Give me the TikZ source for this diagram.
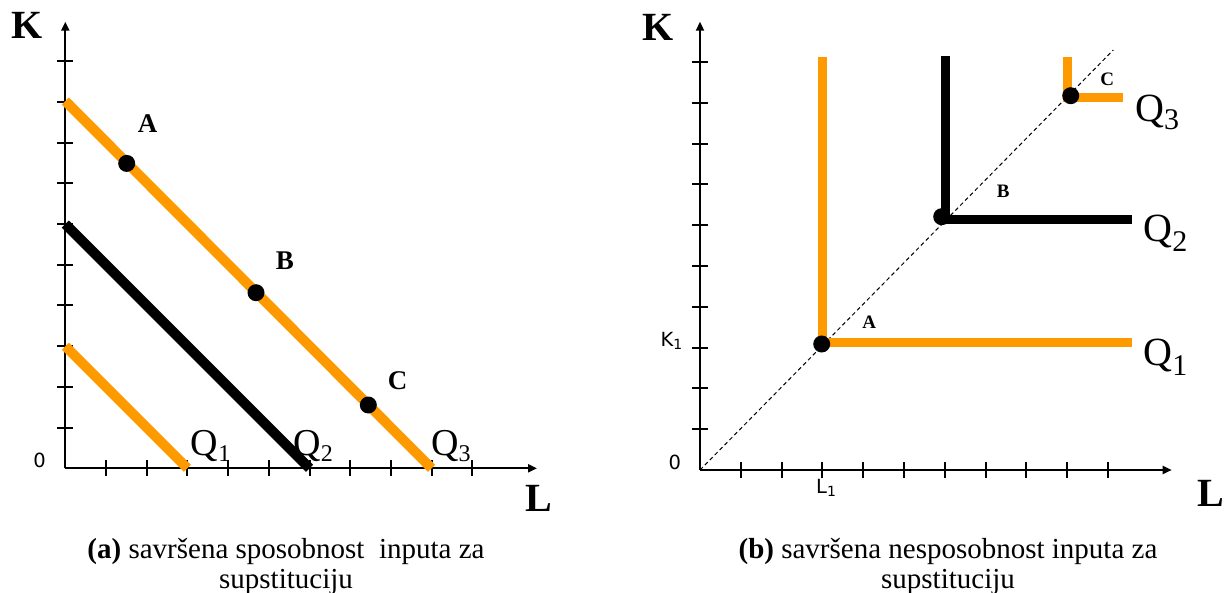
\documentclass[tikz,border=0pt]{standalone}
\usepackage{fontspec}
\setmainfont{Liberation Serif}
\newfontfamily\sansf{DejaVu Sans}
\usetikzlibrary{arrows.meta}
\definecolor{qorange}{RGB}{255,153,0}
\newcommand{\Qlab}[4]{#1\raisebox{-#4pt}{\fontsize{#3}{#3}\selectfont #2}}
\begin{document}
\begin{tikzpicture}[x=1pt,y=-1pt,
  axisline/.style={line width=2pt,-{Triangle[length=9pt,width=8pt]}},
  tickmark/.style={line width=2pt},
  isoL/.style={line width=10pt},
  isoR/.style={line width=9pt,line join=miter},
  dashline/.style={line width=1pt,dash pattern=on 4pt off 3pt},
  dotnode/.style={circle,fill=black,inner sep=0pt,minimum size=17pt},
  ptlabL/.style={font=\fontsize{27}{27}\selectfont\bfseries,inner sep=0pt},
  ptlabR/.style={font=\fontsize{19}{19}\selectfont\bfseries,inner sep=0pt},
  axlab/.style={font=\fontsize{40}{40}\selectfont\bfseries,inner sep=0pt,anchor=base},
  qlabL/.style={font=\fontsize{38}{38}\selectfont,inner sep=0pt,anchor=base west},
  qlabR/.style={font=\fontsize{40}{40}\selectfont,inner sep=0pt,anchor=base west},
  smalllab/.style={font=\sansf\fontsize{19.5}{19.5}\selectfont,inner sep=0pt},
  captext/.style={font=\fontsize{29}{30}\selectfont,inner sep=0pt,anchor=base},
]
\useasboundingbox (0,0) rectangle (1228,593);

% ---------- left panel (a) ----------
\coordinate (O1) at (65.3,468.3);
\coordinate (Y1) at (65.3,21.7);
\coordinate (X1) at (537,468.3);
\draw[axisline] (O1) -- (Y1);
\draw[axisline] (O1) -- (X1);
\foreach \i in {1,...,10} {
  \draw[tickmark] (57.3,{468.3-40.7*\i}) -- (73.3,{468.3-40.7*\i});
  \draw[tickmark] ({65.3+40.7*\i},460.3) -- ({65.3+40.7*\i},476.3);
}
\coordinate (q1a) at (65.3,346.2);
\coordinate (q1b) at (187.4,468.3);
\coordinate (q2a) at (65.3,224.1);
\coordinate (q2b) at (309.5,468.3);
\coordinate (q3a) at (65.3,101.0);
\coordinate (q3b) at (431.6,468.3);
\draw[isoL,qorange] (q1a) -- (q1b);
\draw[isoL,black] (q2a) -- (q2b);
\draw[isoL,qorange] (q3a) -- (q3b);
\node[dotnode] (dA1) at (126.7,163.4) {};
\node[dotnode] (dB1) at (256,292.7) {};
\node[dotnode] (dC1) at (368.3,405) {};
\node[ptlabL] (lA1) at (147.7,123.3) {A};
\node[ptlabL] (lB1) at (285,261) {B};
\node[ptlabL] (lC1) at (397.5,380.7) {C};
\node[axlab] (K1lab) at (26.7,38.3) {K};
\node[axlab] (L1lab) at (538.6,511.7) {L};
\node[smalllab] (zero1) at (39.7,460.8) {0};
\node[qlabL] (Q1a) at (190.7,455) {\Qlab{Q}{1}{24}{6}};
\node[qlabL] (Q2a) at (293.3,455) {\Qlab{Q}{2}{24}{6}};
\node[qlabL] (Q3a) at (431,455) {\Qlab{Q}{3}{24}{6}};
\node[captext] (capa1) at (286,558) {\textbf{(a)} savršena sposobnost\hspace{0.25em} inputa za};
\node[captext] (capa2) at (286,588) {supstituciju};

% ---------- right panel (b) ----------
\coordinate (O2) at (700,470);
\coordinate (Y2) at (700,21.7);
\coordinate (X2) at (1171.7,470);
\draw[axisline] (O2) -- (Y2);
\draw[axisline] (O2) -- (X2);
\foreach \i in {1,...,10} {
  \draw[tickmark] (692,{470-40.8*\i}) -- (708,{470-40.8*\i});
  \draw[tickmark] ({700+40.8*\i},462) -- ({700+40.8*\i},478);
}
\coordinate (dEnd) at (1113.3,50);
\draw[dashline] (O2) -- (dEnd);
\coordinate (r1a) at (822.2,56.7);
\coordinate (r1b) at (822.2,342.8);
\coordinate (r1c) at (1131.7,342.8);
\coordinate (r2a) at (945,56);
\coordinate (r2b) at (945,219.5);
\coordinate (r2c) at (1131.7,219.5);
\coordinate (r3a) at (1067.2,56.7);
\coordinate (r3b) at (1067.2,97.2);
\coordinate (r3c) at (1123.3,97.2);
\draw[isoR,qorange] (r1a) -- (r1b) -- (r1c);
\draw[isoR,black] (r2a) -- (r2b) -- (r2c);
\draw[isoR,qorange] (r3a) -- (r3b) -- (r3c);
\node[dotnode] (dA2) at (821.7,344) {};
\node[dotnode] (dB2) at (941.7,216.7) {};
\node[dotnode] (dC2) at (1070.7,95.7) {};
\node[ptlabR] (lA2) at (869.3,322.3) {A};
\node[ptlabR] (lB2) at (1003.3,191.7) {B};
\node[ptlabR] (lC2) at (1107.3,79) {C};
\node[axlab] (K2lab) at (658,40.7) {K};
\node[axlab] (L2lab) at (1211,506) {L};
\node[smalllab] (zero2) at (674.7,462.3) {0};
\node[smalllab,anchor=base west] (Kone) at (660.5,346.7) {\Qlab{K}{1}{14}{3}};
\node[smalllab,anchor=base west] (Lone) at (816,493.3) {\Qlab{L}{1}{14}{3}};
\node[qlabR] (Q3b) at (1135,121.7) {\Qlab{Q}{3}{30}{8}};
\node[qlabR] (Q2b) at (1143.3,241.7) {\Qlab{Q}{2}{30}{10}};
\node[qlabR] (Q1b) at (1143.3,365) {\Qlab{Q}{1}{30}{10}};
\node[captext] (capb1) at (948,558) {\textbf{(b)} savršena nesposobnost inputa za};
\node[captext] (capb2) at (948,588) {supstituciju};
\end{tikzpicture}
\end{document}
